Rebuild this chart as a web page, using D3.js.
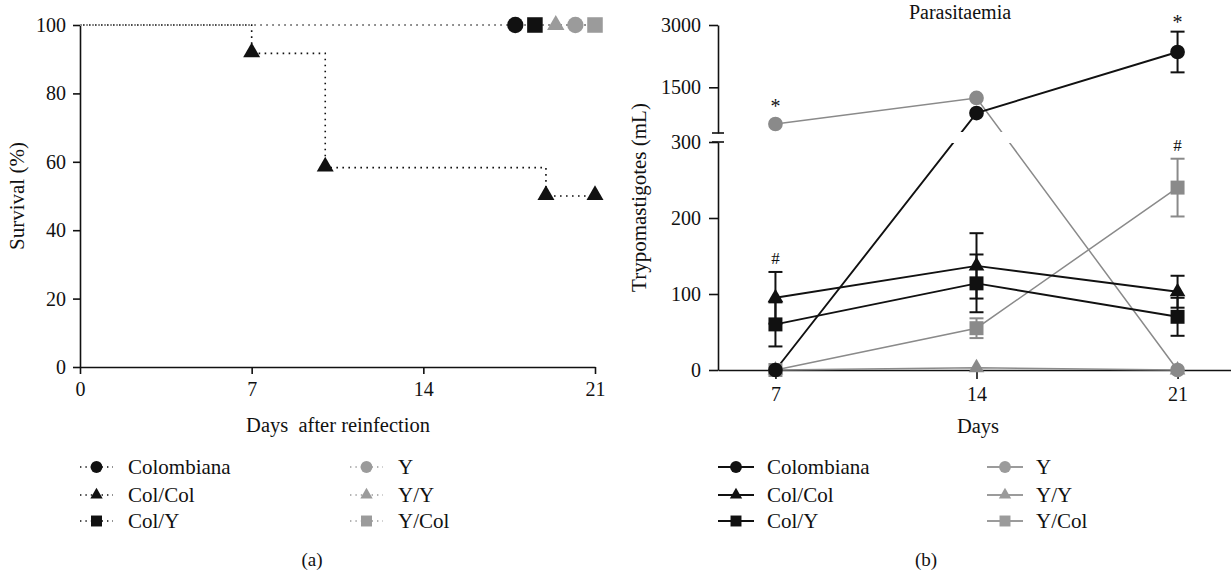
<!DOCTYPE html>
<html>
<head>
<meta charset="utf-8">
<script src="https://cdn.jsdelivr.net/npm/d3@7"></script>
<style>
  body { margin: 0; background: #fff; }
</style>
</head>
<body>
<svg id="chartSVG"></svg>
<script>
// series and their look
let seriesNames = ['Colombiana', 'Col/Col', 'Col/Y', 'Y', 'Y/Y', 'Y/Col'];

// (a) survival, Col/Col is the only group that drops
let survDays = [0, 7, 10, 19, 21];
let survColCol = [100, 91.7, 58.3, 50, 50];
let survFullDays = [0, 21];
let survFull = [100, 100];
// end markers of the groups that all survived (Prism spreads them out)
let endSeries = ['Colombiana', 'Col/Y', 'Y/Y', 'Y', 'Y/Col'];
let endDay = [17.75, 18.55, 19.4, 20.2, 21];
let survTicks = [0, 20, 40, 60, 80, 100];
let dayTicksA = [0, 7, 14, 21];

// (b) parasitaemia
let days = [7, 14, 21];
let colombiana = [0, 880, 2350];
let colombianaErr = [0, 0, 490];
let colCol = [95, 137, 103];
let colColErr = [34, 43, 21];
let colY = [60, 114, 70];
let colYErr = [29, 38, 25];
let yStrain = [617, 1243, 0];
let yStrainErr = [0, 0, 0];
let yY = [0, 3, 0];
let yYErr = [0, 0, 0];
let yCol = [0, 55, 240];
let yColErr = [0, 13, 38];
let lowTicks = [0, 100, 200, 300];
let highTicks = [1500, 3000];
let dayTicksB = [7, 14, 21];
// significance marks: series, day, sign
let sigSeries = ['Y', 'Colombiana', 'Col/Col', 'Y/Col'];
let sigDay = [7, 21, 7, 21];
let sigMark = ['*', '*', '#', '#'];

let FONT = '"Liberation Serif", "Times New Roman", "DejaVu Serif", serif';

let widthSVG = 1231, heightSVG = 577;
let SVG = d3.select('svg#chartSVG')
            .attr('width', widthSVG)
            .attr('height', heightSVG)
            .style('font-family', FONT);

let isBlack = name => ['Colombiana', 'Col/Col', 'Col/Y'].includes(name);
let shapeOf = name => ({
  'Colombiana': d3.symbolCircle, 'Y': d3.symbolCircle,
  'Col/Col': d3.symbolTriangle, 'Y/Y': d3.symbolTriangle,
  'Col/Y': d3.symbolSquare, 'Y/Col': d3.symbolSquare
})[name];
let sizeOf = (name, scale) => {
  let s = shapeOf(name);
  let base = s === d3.symbolCircle ? 200 : s === d3.symbolSquare ? 230 : 125;
  return base * scale;
};
let grayA = '#9b9b9b', grayB = '#8a8a8a';
let ink = '#111';

function styleAxis(g, size) {
  g.attr('font-family', null);
  g.selectAll('text')
    .attr('font-family', FONT)
    .style('font-family', FONT)
    .style('font-size', size)
    .attr('fill', ink);
  g.selectAll('.domain, .tick line').attr('stroke', ink).attr('stroke-width', 1.6);
}

/* ---------- panel (a) ---------- */
let xA = d3.scaleLinear().domain([0, 21]).range([80, 595]);
let yA = d3.scaleLinear().domain([0, 100]).range([367, 25]);

let gA = SVG.append('g').attr('id', 'panelA');

gA.append('g')
  .attr('transform', `translate(${xA(0)},0)`)
  .call(d3.axisLeft(yA).tickValues(survTicks).tickSize(7).tickSizeOuter(0).tickPadding(7))
  .call(g => styleAxis(g, '20px'));

gA.append('g')
  .attr('transform', `translate(0,${yA(0)})`)
  .call(d3.axisBottom(xA).tickValues(dayTicksA).tickSize(7).tickSizeOuter(0).tickPadding(8))
  .call(g => styleAxis(g, '20px'));

let stepLine = d3.line()
  .x(d => xA(d[0]))
  .y(d => yA(d[1]))
  .curve(d3.curveStepAfter);

// groups that all survive, black first then gray on top
let fullOrder = ['Colombiana', 'Col/Y', 'Y', 'Y/Y', 'Y/Col'];
fullOrder.forEach(name => {
  gA.append('path')
    .datum(survFullDays.map((d, i) => [d, survFull[i]]))
    .attr('d', stepLine)
    .attr('fill', 'none')
    .attr('stroke', isBlack(name) ? ink : grayA)
    .attr('stroke-width', 1.6)
    .attr('stroke-dasharray', '1.6,4.4');
});

gA.append('path')
  .datum(survDays.map((d, i) => [d, survColCol[i]]))
  .attr('d', stepLine)
  .attr('fill', 'none')
  .attr('stroke', ink)
  .attr('stroke-width', 1.6)
  .attr('stroke-dasharray', '1.6,4.4')
  .attr('stroke-dashoffset', 3);

// Col/Col markers at each drop
gA.selectAll('path.colcol')
  .data(survDays.slice(1).map((d, i) => [d, survColCol[i + 1]]))
  .enter()
  .append('path')
  .classed('colcol', true)
  .attr('d', d3.symbol(d3.symbolTriangle, 125))
  .attr('transform', d => `translate(${xA(d[0])},${yA(d[1]) - 1})`)
  .attr('fill', ink);

gA.selectAll('path.endmark')
  .data(endSeries)
  .enter()
  .append('path')
  .classed('endmark', true)
  .attr('d', d => d3.symbol(shapeOf(d), sizeOf(d, 1.05))())
  .attr('transform', (d, i) => `translate(${xA(endDay[i])},${yA(100)})`)
  .attr('fill', d => isBlack(d) ? ink : grayA);

gA.append('text')
  .text('Survival (%)')
  .attr('transform', `translate(24,${(yA(0) + yA(100)) / 2}) rotate(-90)`)
  .style('text-anchor', 'middle')
  .style('font-size', '21px')
  .attr('fill', ink);

gA.append('text')
  .text('Days\u00a0 after reinfection')
  .attr('x', 338).attr('y', 432)
  .style('text-anchor', 'middle')
  .style('font-size', '20.5px')
  .attr('fill', ink);

/* ---------- panel (b) ---------- */
let xB = d3.scaleLinear().domain([5, 23]).range([718, 1235]);
let yLow = d3.scaleLinear().domain([0, 300]).range([370, 142]);
let yHigh = d3.scaleLinear().domain([400, 3000]).range([133, 25]);
let yB = v => v <= 300 ? yLow(v) : yHigh(v);

let gB = SVG.append('g').attr('id', 'panelB');
let fmt = d3.format('d');

gB.append('g')
  .attr('transform', `translate(${xB(5)},0)`)
  .call(d3.axisLeft(yLow).tickValues(lowTicks).tickFormat(fmt).tickSize(9).tickSizeOuter(0).tickPadding(8))
  .call(g => styleAxis(g, '20px'));
gB.append('g')
  .attr('transform', `translate(${xB(5)},0)`)
  .call(d3.axisLeft(yHigh).tickValues(highTicks).tickFormat(fmt).tickSize(9).tickSizeOuter(0).tickPadding(8))
  .call(g => styleAxis(g, '20px'));
gB.append('g')
  .attr('transform', `translate(0,${yLow(0)})`)
  .call(d3.axisBottom(xB).tickValues(dayTicksB).tickSize(9).tickSizeOuter(0).tickPadding(8))
  .call(g => styleAxis(g, '20px'));

// axis break caps
[yHigh(400), yLow(300)].forEach(yy => {
  gB.append('line')
    .attr('x1', xB(5) - 6).attr('x2', xB(5) + 6)
    .attr('y1', yy).attr('y2', yy)
    .attr('stroke', ink).attr('stroke-width', 1.6);
});

let defs = SVG.append('defs');
defs.append('clipPath').attr('id', 'clipHigh')
  .append('rect').attr('x', 700).attr('y', 0).attr('width', 540).attr('height', yHigh(400) - 1);
defs.append('clipPath').attr('id', 'clipLow')
  .append('rect').attr('x', 700).attr('y', yLow(300) + 1).attr('width', 540).attr('height', 300);

let parasit = [
  {name: 'Y/Y', vals: yY, err: yYErr},
  {name: 'Y/Col', vals: yCol, err: yColErr},
  {name: 'Y', vals: yStrain, err: yStrainErr},
  {name: 'Colombiana', vals: colombiana, err: colombianaErr},
  {name: 'Col/Y', vals: colY, err: colYErr},
  {name: 'Col/Col', vals: colCol, err: colColErr}
];

let lineB = d3.line()
  .x((d, i) => xB(days[i]))
  .y(d => yB(d));

['clipHigh', 'clipLow'].forEach(clip => {
  let g = gB.append('g').attr('clip-path', `url(#${clip})`);
  g.selectAll('path')
    .data(parasit)
    .enter()
    .append('path')
    .attr('d', d => lineB(d.vals))
    .attr('fill', 'none')
    .attr('stroke', d => isBlack(d.name) ? ink : grayB)
    .attr('stroke-width', d => isBlack(d.name) ? 1.9 : 1.5);
});

// error bars
let capW = 7;
parasit.forEach(s => {
  let col = isBlack(s.name) ? ink : grayB;
  s.vals.forEach((v, i) => {
    if (!s.err[i]) return;
    let x = xB(days[i]);
    let top = yB(v + s.err[i]), bot = yB(v - s.err[i]);
    let eg = gB.append('g').attr('stroke', col).attr('stroke-width', 2);
    eg.append('line').attr('x1', x).attr('x2', x).attr('y1', top).attr('y2', bot);
    eg.append('line').attr('x1', x - capW).attr('x2', x + capW).attr('y1', top).attr('y2', top);
    eg.append('line').attr('x1', x - capW).attr('x2', x + capW).attr('y1', bot).attr('y2', bot);
  });
});

// markers
parasit.forEach(s => {
  gB.selectAll(null)
    .data(s.vals)
    .enter()
    .append('path')
    .attr('d', d3.symbol(shapeOf(s.name), sizeOf(s.name, 0.85)))
    .attr('transform', (d, i) => `translate(${xB(days[i])},${yB(d)})`)
    .attr('fill', isBlack(s.name) ? ink : grayB);
});

// significance marks
sigSeries.forEach((name, k) => {
  let s = parasit.find(p => p.name === name);
  let i = days.indexOf(sigDay[k]);
  let topV = yB(s.vals[i] + s.err[i]);
  let top = Math.min(topV, yB(s.vals[i]) - 8);
  gB.append('text')
    .text(sigMark[k])
    .attr('x', xB(sigDay[k]))
    .attr('y', sigMark[k] === '*' ? top - 3 : top - 8)
    .style('text-anchor', 'middle')
    .style('font-size', sigMark[k] === '*' ? '20px' : '17px')
    .attr('fill', ink);
});

gB.append('text')
  .text('Parasitaemia')
  .attr('x', 960).attr('y', 19)
  .style('text-anchor', 'middle')
  .style('font-size', '20px')
  .attr('fill', ink);

gB.append('text')
  .text('Trypomastigotes (mL)')
  .attr('transform', `translate(646,${(yLow(0) + yHigh(3000)) / 2}) rotate(-90)`)
  .style('text-anchor', 'middle')
  .style('font-size', '21px')
  .attr('fill', ink);

gB.append('text')
  .text('Days')
  .attr('x', 978).attr('y', 433)
  .style('text-anchor', 'middle')
  .style('font-size', '20.5px')
  .attr('fill', ink);

/* ---------- legends ---------- */
let rowY = [467, 495, 521];

function drawLegend(g, opts) {
  seriesNames.forEach((name, i) => {
    let col = Math.floor(i / 3), row = i % 3;
    let lx = opts.cols[col];
    let yy = rowY[row];
    let color = isBlack(name) ? ink : opts.gray;
    g.append('line')
      .attr('x1', lx).attr('x2', lx + opts.len)
      .attr('y1', yy).attr('y2', yy)
      .attr('stroke', color)
      .attr('stroke-width', opts.dotted ? 1.4 : 1.9)
      .attr('stroke-dasharray', opts.dotted ? '1.4,4' : null);
    let sym = shapeOf(name);
    let sz = sym === d3.symbolCircle ? 110 : sym === d3.symbolSquare ? 120 : 66;
    g.append('path')
      .attr('d', d3.symbol(sym, sz))
      .attr('transform', `translate(${lx + opts.len / 2},${yy})`)
      .attr('fill', color);
    g.append('text')
      .text(name)
      .attr('x', lx + opts.len + opts.gap)
      .attr('y', yy + 7)
      .style('font-size', '21px')
      .attr('fill', ink);
  });
}

drawLegend(SVG.append('g'), {cols: [80, 350], len: 33, gap: 15, dotted: true, gray: grayA});
drawLegend(SVG.append('g'), {cols: [718, 987], len: 36, gap: 13, dotted: false, gray: grayA});

SVG.append('text').text('(a)')
  .attr('x', 312).attr('y', 566)
  .style('text-anchor', 'middle').style('font-size', '19px')
  .attr('fill', ink);
SVG.append('text').text('(b)')
  .attr('x', 926).attr('y', 566)
  .style('text-anchor', 'middle').style('font-size', '19px')
  .attr('fill', ink);
</script>
</body>
</html>
